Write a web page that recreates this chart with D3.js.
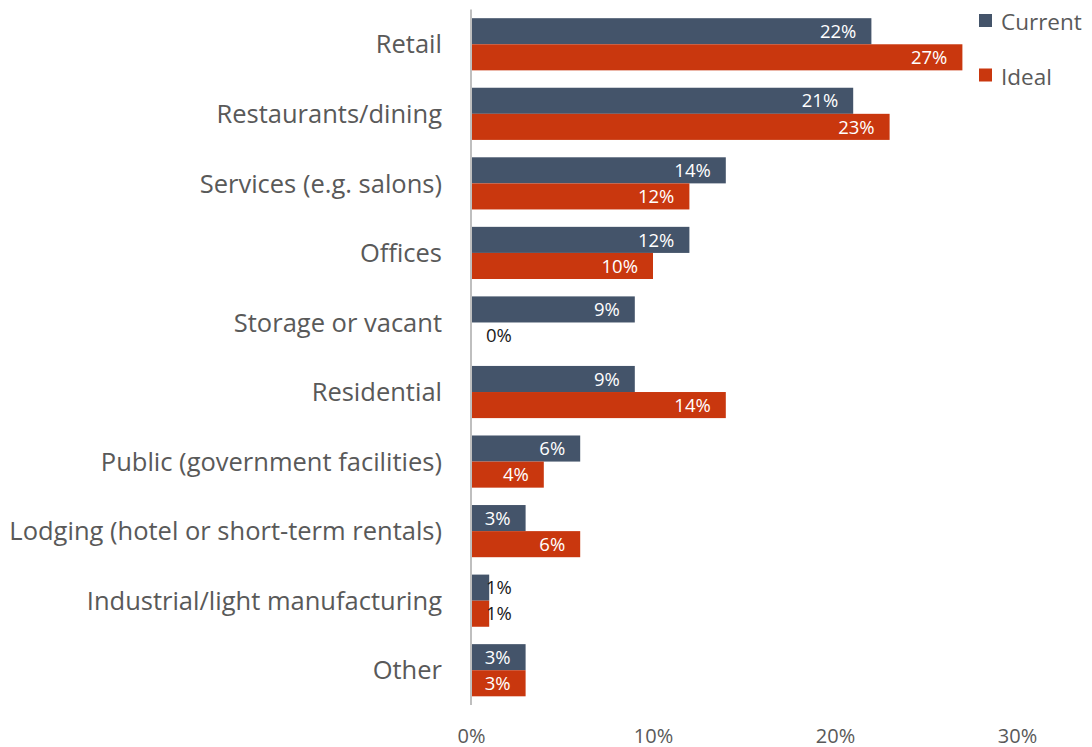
<!DOCTYPE html>
<html>
<head>
<meta charset="utf-8">
<script src="https://cdn.jsdelivr.net/npm/d3@7"></script>
<style>
  html, body { margin: 0; padding: 0; background: #fff; }
  svg { display: block; font-family: "Open Sans", Lato, sans-serif; }
</style>
</head>
<body>
<svg id="chart" width="1092" height="747"></svg>
<script>
const categories = [
  "Retail",
  "Restaurants/dining",
  "Services (e.g. salons)",
  "Offices",
  "Storage or vacant",
  "Residential",
  "Public (government facilities)",
  "Lodging (hotel or short-term rentals)",
  "Industrial/light manufacturing",
  "Other"
];
const seriesNames = ["Current", "Ideal"];
const currentValues = [22, 21, 14, 12, 9, 9, 6, 3, 1, 3];
const idealValues = [27, 23, 12, 10, 0, 14, 4, 6, 1, 3];
const tickValues = [0, 10, 20, 30];
const colors = { Current: "#44546A", Ideal: "#C9370E" };

const svg = d3.select("#chart");
const plotLeft = 471, plotRight = 1017, plotTop = 9.5, plotBottom = 705;

const x = d3.scaleLinear().domain([0, 30]).range([plotLeft, plotRight]);
const y = d3.scaleBand().domain(categories).range([plotTop, plotBottom]).paddingInner(0.25).paddingOuter(0.125);
const ySub = d3.scaleBand().domain(seriesNames).range([0, y.bandwidth()]);

const rows = categories.map((c, i) => ({ cat: c, Current: currentValues[i], Ideal: idealValues[i] }));

// bars
const groups = svg.append("g").selectAll("g").data(rows).join("g")
  .attr("transform", d => `translate(0,${y(d.cat)})`);

groups.selectAll("rect").data(d => seriesNames.map(s => ({ s, v: d[s] }))).join("rect")
  .attr("x", x(0))
  .attr("y", d => ySub(d.s))
  .attr("width", d => x(d.v) - x(0))
  .attr("height", ySub.bandwidth())
  .attr("fill", d => colors[d.s]);

// value labels: inside the bar end, or just past the axis when the bar is too short
groups.selectAll("text").data(d => seriesNames.map(s => ({ s, v: d[s] }))).join("text")
  .attr("x", d => d.v < 2 ? x(0) + 15 : x(d.v) - 15)
  .attr("y", d => ySub(d.s) + ySub.bandwidth() / 2)
  .attr("dy", "0.36em")
  .attr("text-anchor", d => d.v < 2 ? "start" : "end")
  .attr("font-size", 18.5)
  .attr("fill", d => d.v < 2 ? "#1a1a1a" : "#ffffff")
  .text(d => d.v + "%");

// category labels
svg.append("g").selectAll("text").data(categories).join("text")
  .attr("x", 442)
  .attr("y", d => y(d) + y.bandwidth() / 2)
  .attr("dy", "0.36em")
  .attr("text-anchor", "end")
  .attr("font-size", 25.5)
  .attr("fill", "#595959")
  .text(d => d);

// vertical axis line
svg.append("line")
  .attr("x1", x(0)).attr("x2", x(0))
  .attr("y1", plotTop).attr("y2", plotBottom)
  .attr("stroke", "#BFBFBF").attr("stroke-width", 2);

// x axis tick labels
const xAxis = d3.axisBottom(x).tickValues(tickValues).tickFormat(d => d + "%").tickSize(0).tickPadding(0);
const gx = svg.append("g").attr("transform", `translate(0,${plotBottom})`).call(xAxis);
gx.select(".domain").remove();
gx.selectAll("text")
  .attr("y", 37.5)
  .attr("dy", 0)
  .attr("font-family", "'Open Sans', Lato, sans-serif")
  .attr("font-size", 20)
  .attr("fill", "#595959");

// legend
const legend = svg.append("g").selectAll("g").data(seriesNames).join("g")
  .attr("transform", (d, i) => `translate(979,${14 + i * 54.5})`);
legend.append("rect").attr("width", 13).attr("height", 13).attr("fill", d => colors[d]);
legend.append("text").attr("x", 22).attr("y", 8).attr("dy", "0.36em")
  .attr("font-size", 22.5).attr("fill", "#595959").text(d => d);
</script>
</body>
</html>
